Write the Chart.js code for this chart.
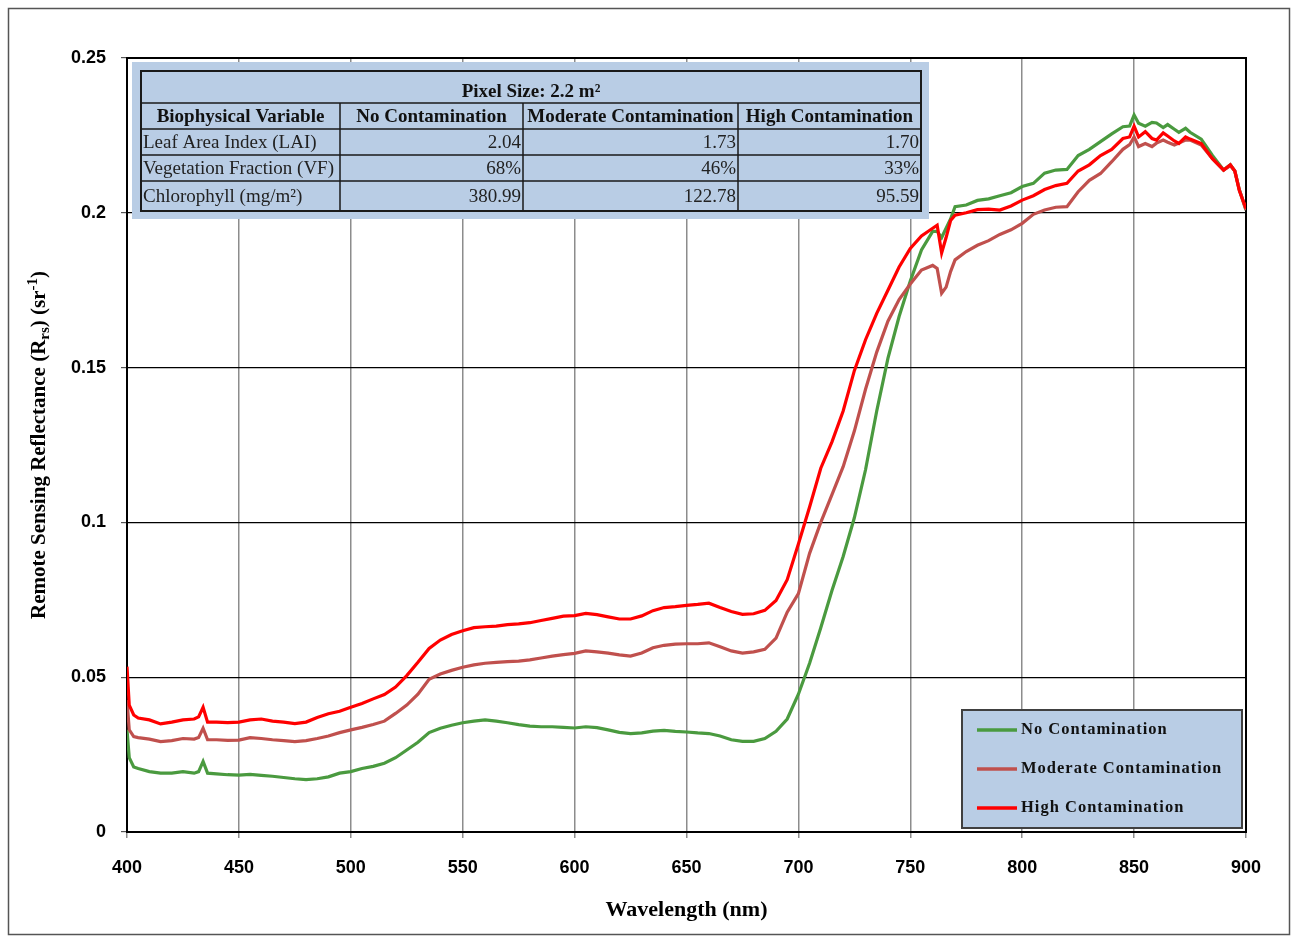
<!DOCTYPE html>
<html>
<head>
<meta charset="utf-8">
<script src="https://cdn.jsdelivr.net/npm/chart.js@4.4.1/dist/chart.umd.min.js"></script>
<style>
  html, body { margin: 0; padding: 0; background: #fff; }
  #wrap { width: 1297px; height: 938px; position: relative; }
</style>
</head>
<body>
<div id="wrap"><canvas id="rrsChart"></canvas></div>
<script>
// wavelength (nm)
const wavelengths = [
  400, 401, 403, 405, 410, 415, 420, 425, 430, 432,
  434, 436, 440, 445, 450, 455, 460, 465, 470, 475,
  480, 485, 490, 495, 500, 505, 510, 515, 520, 525,
  530, 535, 540, 545, 550, 555, 560, 565, 570, 575,
  580, 585, 590, 595, 600, 605, 610, 615, 620, 625,
  630, 635, 640, 645, 650, 655, 660, 665, 670, 675,
  680, 685, 690, 695, 700, 705, 710, 715, 720, 725,
  730, 735, 740, 745, 750, 755, 760, 762, 764, 766,
  768, 770, 775, 780, 785, 790, 795, 800, 805, 810,
  815, 820, 825, 830, 835, 840, 845, 848, 850, 852,
  855, 858, 860, 863, 865, 868, 870, 873, 875, 880,
  885, 890, 893, 895, 897, 900
];

// Rrs values
const noContamination = [
  0.033, 0.024, 0.021, 0.0205, 0.0195, 0.019, 0.019, 0.0195, 0.019, 0.0195,
  0.0228, 0.019, 0.0188, 0.0185, 0.0184, 0.0186, 0.0183, 0.018, 0.0176, 0.0172,
  0.0169, 0.0172, 0.0178, 0.019, 0.0195, 0.0205, 0.0212, 0.0222, 0.024, 0.0265,
  0.029, 0.0321, 0.0335, 0.0345, 0.0353, 0.0358, 0.0362, 0.0358, 0.0353, 0.0347,
  0.0342, 0.034, 0.034, 0.0338, 0.0336, 0.034, 0.0337, 0.033, 0.0322, 0.0318,
  0.032, 0.0326, 0.0328, 0.0325, 0.0323, 0.032, 0.0318, 0.031, 0.0298, 0.0293,
  0.0293, 0.0302, 0.0325, 0.0365, 0.0445, 0.0545, 0.066, 0.078, 0.089, 0.1015,
  0.117, 0.136, 0.153, 0.1665, 0.178, 0.188, 0.194, 0.194, 0.192, 0.195,
  0.198, 0.202, 0.2025, 0.204, 0.2045, 0.2055, 0.2065, 0.2085, 0.2095, 0.2128,
  0.2138, 0.214, 0.2185, 0.2205, 0.223, 0.2255, 0.2278, 0.228, 0.2316, 0.2289,
  0.228, 0.2292, 0.229, 0.2275, 0.2285, 0.227, 0.226, 0.2273, 0.226, 0.2238,
  0.2185, 0.2138, 0.2155, 0.2135, 0.2075, 0.2009
];
const moderateContamination = [
  0.0426, 0.033, 0.0308, 0.0305, 0.030, 0.0292, 0.0295, 0.0302, 0.030, 0.0305,
  0.0335, 0.0298, 0.0298, 0.0296, 0.0297, 0.0305, 0.0302, 0.0298, 0.0295, 0.0292,
  0.0295, 0.0302, 0.031, 0.0321, 0.033, 0.0338, 0.0347, 0.0358, 0.0383, 0.041,
  0.0445, 0.0493, 0.051, 0.0522, 0.0532, 0.054, 0.0545, 0.0548, 0.055, 0.0552,
  0.0556, 0.0562, 0.0568, 0.0573, 0.0577, 0.0585, 0.0582, 0.0578, 0.0572, 0.0568,
  0.0578, 0.0595, 0.0603, 0.0607, 0.0608, 0.0608, 0.0611, 0.0598, 0.0585, 0.0578,
  0.0582, 0.059, 0.0626, 0.071, 0.077, 0.09, 0.1, 0.109, 0.118, 0.1295,
  0.143, 0.155, 0.165, 0.172, 0.177, 0.1815, 0.183, 0.182, 0.174, 0.176,
  0.181, 0.1848, 0.1875, 0.1895, 0.191, 0.193, 0.1945, 0.1966, 0.1995, 0.2009,
  0.2018, 0.202, 0.2068, 0.2105, 0.2127, 0.2165, 0.2205, 0.222, 0.2245, 0.2214,
  0.2224, 0.2214, 0.2225, 0.2235, 0.2228, 0.2219, 0.2225, 0.2235, 0.2235, 0.2219,
  0.2175, 0.2138, 0.2152, 0.2135, 0.2075, 0.2009
];
const highContamination = [
  0.0534, 0.041, 0.0378, 0.0368, 0.0362, 0.0349, 0.0355, 0.0362, 0.0365, 0.0372,
  0.0403, 0.0355, 0.0355, 0.0353, 0.0355, 0.0362, 0.0365, 0.0358, 0.0355, 0.035,
  0.0355, 0.037, 0.0382, 0.039, 0.0403, 0.0415, 0.043, 0.0444, 0.0468, 0.0505,
  0.0548, 0.0593, 0.062, 0.0638, 0.065, 0.066, 0.0663, 0.0665, 0.067, 0.0672,
  0.0676, 0.0683, 0.069, 0.0697, 0.0699, 0.0706, 0.0702, 0.0695, 0.0688, 0.0688,
  0.0698, 0.0715, 0.0725, 0.0728, 0.0732, 0.0735, 0.0739, 0.0725, 0.0712, 0.0703,
  0.0705, 0.0716, 0.0748, 0.0815, 0.093, 0.105, 0.1175, 0.126, 0.136, 0.149,
  0.159, 0.1675, 0.175, 0.1825, 0.1885, 0.1925, 0.195, 0.196, 0.187, 0.192,
  0.1975, 0.1992, 0.2, 0.201, 0.2012, 0.2009, 0.2022, 0.2041, 0.2055, 0.2075,
  0.2088, 0.2095, 0.2135, 0.2155, 0.2185, 0.2205, 0.224, 0.2245, 0.228, 0.2245,
  0.2262, 0.224, 0.2235, 0.2258, 0.2248, 0.2232, 0.2224, 0.2245, 0.2238, 0.2224,
  0.2175, 0.2138, 0.2155, 0.2135, 0.2072, 0.2014
];

const seriesNames = ['No Contamination', 'Moderate Contamination', 'High Contamination'];
const seriesColors = ['#4a9a3f', '#c0504d', '#ff0000'];

// inset table
const tableTitle = 'Pixel Size: 2.2 m²';
const tableHeader = ['Biophysical Variable', 'No Contamination', 'Moderate Contamination', 'High Contamination'];
const tableRows = [
  ['Leaf Area Index (LAI)', '2.04', '1.73', '1.70'],
  ['Vegetation Fraction (VF)', '68%', '46%', '33%'],
  ['Chlorophyll (mg/m²)', '380.99', '122.78', '95.59']
];

const toPoints = vals => wavelengths.map((w, i) => ({ x: w, y: vals[i] }));

// frame, titles, plot border
const decorPlugin = {
  id: 'decor',
  beforeDraw(chart) {
    const ctx = chart.ctx;
    ctx.save();
    ctx.fillStyle = '#fff';
    ctx.fillRect(0, 0, chart.width, chart.height);
    ctx.strokeStyle = '#555';
    ctx.lineWidth = 1.5;
    ctx.strokeRect(8.5, 8.5, 1281, 926);
    ctx.restore();
  },
  beforeDatasetsDraw(chart) {
    const ctx = chart.ctx, a = chart.chartArea;
    ctx.save();
    ctx.strokeStyle = '#000';
    ctx.lineWidth = 2;
    ctx.strokeRect(a.left, a.top, a.right - a.left, a.bottom - a.top);
    ctx.restore();
  },
  afterDraw(chart) {
    const ctx = chart.ctx, a = chart.chartArea;
    ctx.save();
    ctx.fillStyle = '#000';
    // x title
    ctx.font = 'bold 22px "Liberation Serif"';
    ctx.textAlign = 'center';
    ctx.textBaseline = 'middle';
    ctx.fillText('Wavelength (nm)', (a.left + a.right) / 2, 910);

    // y title with sub / superscript
    const main = 'bold 21px "Liberation Serif"';
    const small = 'bold 15px "Liberation Serif"';
    const parts = [
      { t: 'Remote Sensing Reflectance (R', f: main, dy: 0 },
      { t: 'rs', f: small, dy: 5 },
      { t: ') (sr', f: main, dy: 0 },
      { t: '-1', f: small, dy: -7 },
      { t: ')', f: main, dy: 0 }
    ];
    let total = 0;
    parts.forEach(p => { ctx.font = p.f; p.w = ctx.measureText(p.t).width; total += p.w; });
    ctx.translate(40, (a.top + a.bottom) / 2);
    ctx.rotate(-Math.PI / 2);
    ctx.textAlign = 'left';
    let px = -total / 2;
    parts.forEach(p => { ctx.font = p.f; ctx.fillText(p.t, px, p.dy); px += p.w; });
    ctx.restore();

    drawTable(ctx);
    drawLegend(ctx, chart);
  }
};

function drawTable(ctx) {
  const cols = [141, 340, 523, 738, 921];
  const rows = [71, 103, 129, 155, 181, 211];
  ctx.save();
  ctx.fillStyle = '#b9cde5';
  ctx.fillRect(132, 62, 797, 157);
  ctx.strokeStyle = '#1a1a1a';
  ctx.lineWidth = 2;
  ctx.strokeRect(cols[0], rows[0], cols[4] - cols[0], rows[5] - rows[0]);
  ctx.lineWidth = 1.5;
  ctx.beginPath();
  for (let r = 1; r < rows.length - 1; r++) {
    ctx.moveTo(cols[0], rows[r]); ctx.lineTo(cols[4], rows[r]);
  }
  for (let c = 1; c < cols.length - 1; c++) {
    ctx.moveTo(cols[c], rows[1]); ctx.lineTo(cols[c], rows[5]);
  }
  ctx.stroke();

  ctx.textBaseline = 'middle';
  ctx.fillStyle = '#111';
  ctx.font = 'bold 19px "Liberation Serif"';
  ctx.textAlign = 'center';
  ctx.fillText(tableTitle, (cols[0] + cols[4]) / 2, 92);
  tableHeader.forEach((h, i) => {
    ctx.fillText(h, (cols[i] + cols[i + 1]) / 2, (rows[1] + rows[2]) / 2 + 1);
  });
  ctx.font = '19px "Liberation Serif"';
  ctx.fillStyle = '#222';
  tableRows.forEach((row, r) => {
    const y = (rows[r + 2] + rows[r + 3]) / 2 + 1;
    row.forEach((cell, c) => {
      if (c === 0) {
        ctx.textAlign = 'left';
        ctx.fillText(cell, cols[0] + 2, y);
      } else {
        ctx.textAlign = 'right';
        ctx.fillText(cell, cols[c + 1] - 2, y);
      }
    });
  });
  ctx.restore();
}

function drawLegend(ctx, chart) {
  ctx.save();
  ctx.fillStyle = '#b9cde5';
  ctx.fillRect(962, 710, 280, 118);
  ctx.strokeStyle = '#404040';
  ctx.lineWidth = 2;
  ctx.strokeRect(962, 710, 280, 118);
  ctx.font = 'bold 16.5px "Liberation Serif"';
  ctx.letterSpacing = '1px';
  ctx.textBaseline = 'middle';
  ctx.textAlign = 'left';
  const ys = [730, 769, 808];
  chart.data.datasets.forEach((ds, i) => {
    ctx.strokeStyle = ds.borderColor;
    ctx.lineWidth = 3.5;
    ctx.beginPath();
    ctx.moveTo(977, ys[i]); ctx.lineTo(1017, ys[i]);
    ctx.stroke();
    ctx.fillStyle = '#111';
    ctx.fillText(ds.label, 1021, ys[i]);
  });
  ctx.restore();
}

const tickFont = { family: 'Liberation Sans', weight: 'bold', size: 18 };

const ctx = document.getElementById('rrsChart').getContext('2d');
const rrsChart = new Chart(ctx, {
  type: 'line',
  data: {
    datasets: [noContamination, moderateContamination, highContamination].map((vals, i) => ({
      label: seriesNames[i],
      data: toPoints(vals),
      borderColor: seriesColors[i],
      backgroundColor: seriesColors[i],
      borderWidth: 3.2,
      pointRadius: 0,
      tension: 0,
      fill: false,
      order: 3 - i
    }))
  },
  options: {
    responsive: true,
    maintainAspectRatio: false,
    animation: false,
    layout: { padding: { top: 58, right: 51, left: 0, bottom: 0 } },
    plugins: {
      legend: { display: false },
      tooltip: { enabled: false }
    },
    scales: {
      x: {
        type: 'linear',
        min: 400,
        max: 900,
        ticks: { stepSize: 50, font: tickFont, color: '#000', padding: 19, maxRotation: 0 },
        grid: { color: '#8c8c8c', lineWidth: 1.5, tickLength: 6, tickColor: '#8c8c8c' },
        border: { color: '#000', width: 2 },
        afterFit: s => { s.height = 106; }
      },
      y: {
        min: 0,
        max: 0.25,
        ticks: {
          stepSize: 0.05, font: tickFont, color: '#000', padding: 15,
          callback: v => String(parseFloat(v.toFixed(2)))
        },
        grid: { color: '#000', lineWidth: 1.2, tickLength: 6, tickColor: '#555' },
        border: { color: '#000', width: 2 },
        afterFit: s => { s.width = 127; }
      }
    }
  },
  plugins: [decorPlugin]
});
</script>
</body>
</html>
